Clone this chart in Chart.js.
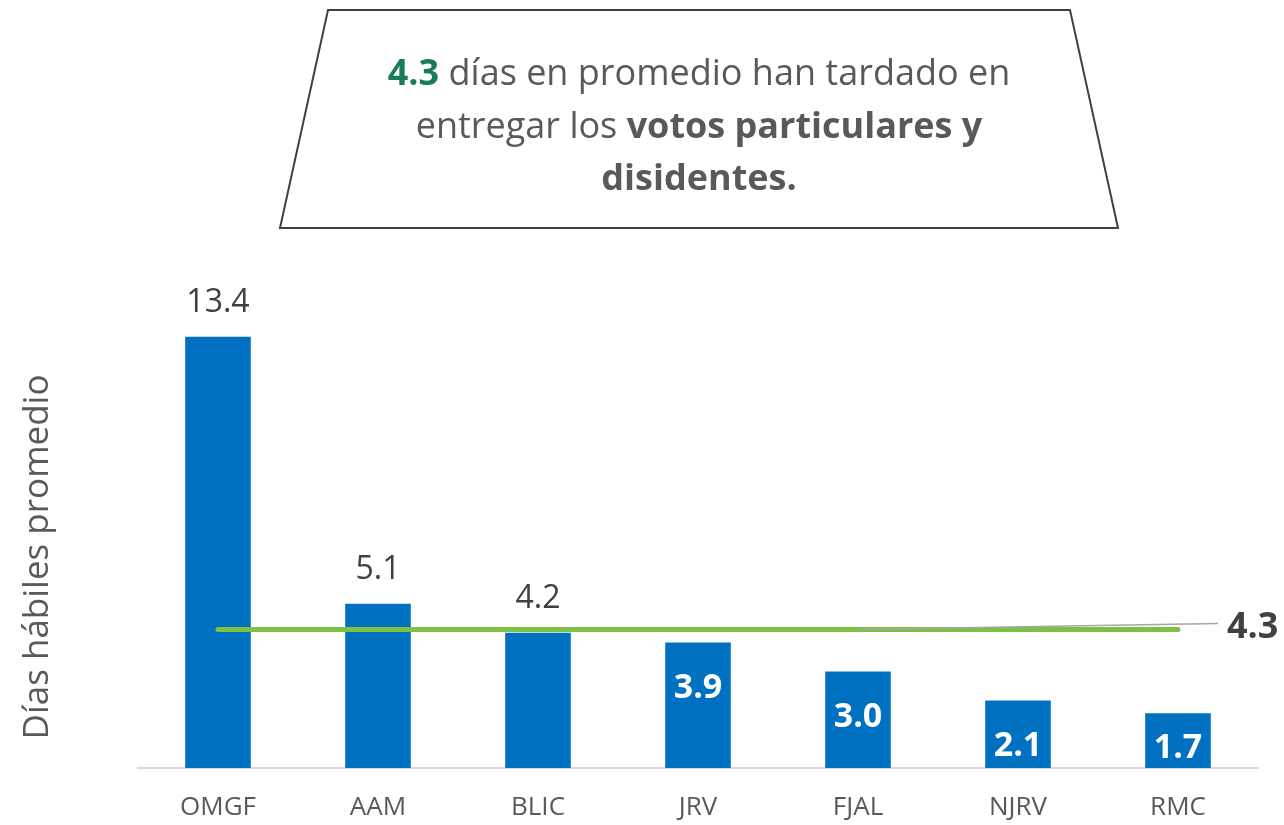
<!DOCTYPE html>
<html lang="es">
<head>
    <meta charset="UTF-8">
    <title>Días hábiles promedio</title>
    <script src="https://cdn.jsdelivr.net/npm/chart.js"></script>
    <style>
        html, body { margin: 0; padding: 0; background: #fff; }
        .caja { width: 1284px; height: 825px; position: relative; }
    </style>
</head>
<body>
<div class="caja">
    <canvas id="grafico" width="1284" height="825"></canvas>
</div>

<script>
    // datos
    const categorias = ['OMGF', 'AAM', 'BLIC', 'JRV', 'FJAL', 'NJRV', 'RMC'];
    const dias = [13.4, 5.1, 4.2, 3.9, 3.0, 2.1, 1.7];
    const promedio = 4.3;
    const etiquetaDentro = [false, false, false, true, true, true, true];

    const fuente = '"Open Sans", "Noto Sans", sans-serif';
    const grisTexto = '#595959';

    // etiquetas de valor en las barras
    const etiquetas = {
        id: 'etiquetas',
        afterDatasetsDraw(chart) {
            const ctx = chart.ctx;
            const meta = chart.getDatasetMeta(1);
            ctx.save();
            ctx.textAlign = 'center';
            ctx.textBaseline = 'middle';
            meta.data.forEach((barra, i) => {
                const txt = dias[i].toFixed(1);
                if (etiquetaDentro[i]) {
                    ctx.font = 'bold 34px ' + fuente;
                    ctx.fillStyle = '#ffffff';
                    ctx.fillText(txt, barra.x, Math.min(barra.y + 46, barra.base - 20));
                } else {
                    ctx.font = '32px ' + fuente;
                    ctx.fillStyle = '#404040';
                    ctx.fillText(txt, barra.x, barra.y - 34);
                }
            });

            // linea guia y etiqueta del promedio
            const x = chart.scales.x, y = chart.scales.y;
            const yp = y.getPixelForValue(promedio);
            ctx.strokeStyle = '#a6a6a6';
            ctx.lineWidth = 1.5;
            ctx.beginPath();
            ctx.moveTo(x.getPixelForValue(4), yp);
            ctx.lineTo(1218, yp - 6);
            ctx.stroke();
            ctx.font = 'bold 36px ' + fuente;
            ctx.fillStyle = '#404040';
            ctx.textAlign = 'left';
            ctx.fillText(promedio.toFixed(1), 1227, yp - 2);
            ctx.restore();
        }
    };

    // recuadro de texto y titulo del eje
    const recuadro = {
        id: 'recuadro',
        afterDraw(chart) {
            const ctx = chart.ctx;
            ctx.save();
            ctx.beginPath();
            ctx.moveTo(328, 10);
            ctx.lineTo(1070, 10);
            ctx.lineTo(1118, 228);
            ctx.lineTo(280, 228);
            ctx.closePath();
            ctx.fillStyle = '#ffffff';
            ctx.fill();
            ctx.strokeStyle = '#404040';
            ctx.lineWidth = 2;
            ctx.stroke();

            const lineas = [
                [['4.3', true, '#1a7a5c'], [' días en promedio han tardado en', false, grisTexto]],
                [['entregar los ', false, grisTexto], ['votos particulares y', true, grisTexto]],
                [['disidentes.', true, grisTexto]]
            ];
            const ys = [75, 128, 180];
            ctx.textBaseline = 'middle';
            ctx.textAlign = 'left';
            lineas.forEach((partes, k) => {
                let ancho = 0;
                partes.forEach(p => {
                    ctx.font = (p[1] ? 'bold ' : '') + '36px ' + fuente;
                    ancho += ctx.measureText(p[0]).width;
                });
                let xx = 699 - ancho / 2;
                partes.forEach(p => {
                    ctx.font = (p[1] ? 'bold ' : '') + '36px ' + fuente;
                    ctx.fillStyle = p[2];
                    ctx.fillText(p[0], xx, ys[k]);
                    xx += ctx.measureText(p[0]).width;
                });
            });

            ctx.translate(38, 557);
            ctx.rotate(-Math.PI / 2);
            ctx.textAlign = 'center';
            ctx.font = '35px ' + fuente;
            ctx.fillStyle = grisTexto;
            ctx.fillText('Días hábiles promedio', 0, 0);
            ctx.restore();
        }
    };

    new Chart(document.getElementById('grafico'), {
        data: {
            labels: categorias,
            datasets: [{
                type: 'line',
                data: categorias.map(() => promedio),
                borderColor: '#7dc142',
                borderWidth: 5,
                borderCapStyle: 'round',
                pointRadius: 0,
                order: 0
            }, {
                type: 'bar',
                data: dias,
                backgroundColor: '#0070c0',
                categoryPercentage: 1,
                barPercentage: 0.41,
                order: 1
            }]
        },
        options: {
            responsive: false,
            animation: false,
            layout: { padding: { left: 138, right: 26, top: 253, bottom: 3 } },
            plugins: {
                legend: { display: false },
                tooltip: { enabled: false }
            },
            scales: {
                x: {
                    grid: { display: false, drawTicks: false },
                    border: { display: true, color: '#d9d9d9', width: 2 },
                    ticks: { color: grisTexto, padding: 24, font: { family: fuente, size: 26 } },
                    afterFit: s => { s.height = 54; }
                },
                y: {
                    display: false,
                    min: 0,
                    max: 16
                }
            }
        },
        plugins: [etiquetas, recuadro]
    });
</script>
</body>
</html>
